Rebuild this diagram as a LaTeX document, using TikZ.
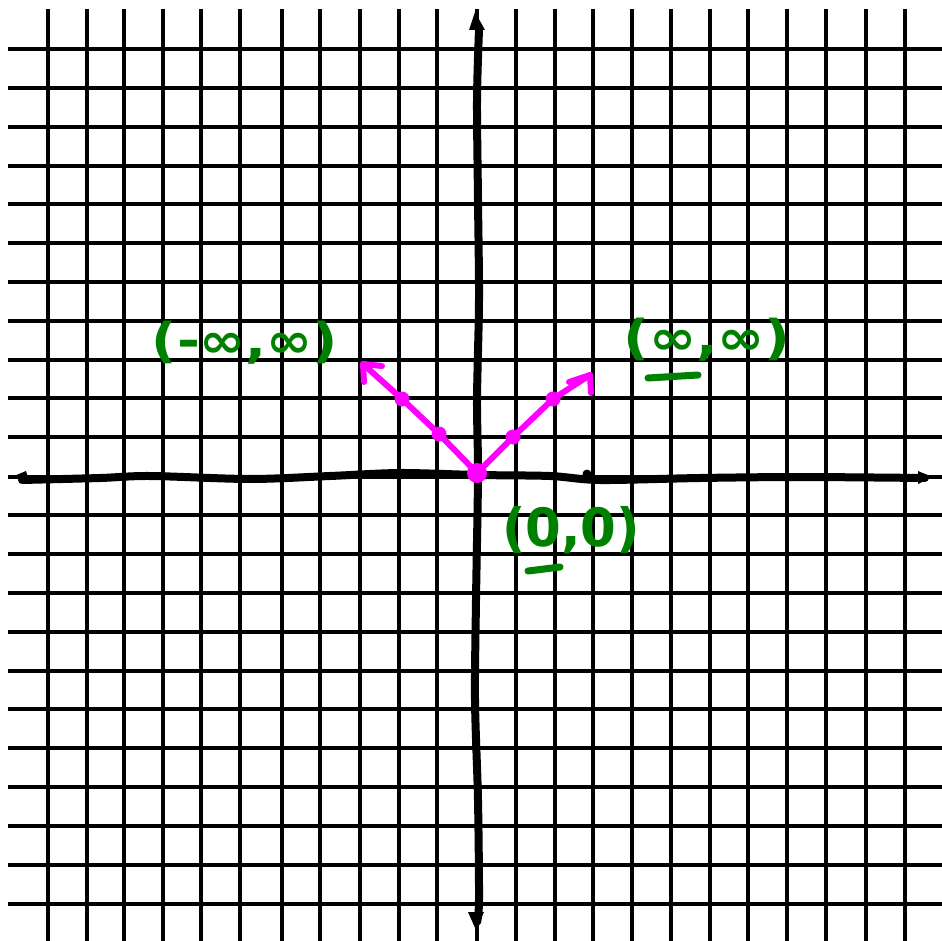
\documentclass[tikz,border=0pt]{standalone}
\usepackage{fontspec}
\newfontfamily\hand{DejaVu Sans}
\definecolor{pengreen}{RGB}{0,128,0}
\definecolor{penmag}{RGB}{255,0,255}
\begin{document}
\begin{tikzpicture}[x=1pt,y=-1pt,
  gridline/.style={line width=3.6pt,black},
  axisline/.style={line width=8pt,line cap=round,line join=round,black},
  magline/.style={penmag,line width=6pt,line cap=round,line join=round},
  magdot/.style={fill=penmag,draw=none},
  glabel/.style={text=pengreen,font=\hand\bfseries\fontsize{48}{48}\selectfont,inner sep=0pt},
  gstroke/.style={pengreen,line width=7pt,line cap=round}]
\useasboundingbox (0,0) rectangle (942,941);
\fill[white] (0,0) rectangle (942,941);
% grid
\foreach \x in {48,87,124,163,201,240,282,320,360,399,437,477,516,555,593,632,671,710,748,787,826,866,905}
  \draw[gridline] (\x,9) -- (\x,941);
\foreach \y in {49,88,127,166,204,243,282,321,360,398,437,477,515,554,593,632,671,709,748,787,826,865,904}
  \draw[gridline] (8,\y) -- (942,\y);
% axes
\draw[axisline] plot[smooth] coordinates {(22,480) (100,478) (150,476) (250,479) (330,476) (400,473) (477,475) (550,476) (600,480) (700,478) (800,477) (925,478)};
\draw[axisline] plot[smooth] coordinates {(479,30) (477,100) (478,200) (479,300) (477,400) (478,475) (476,600) (475,700) (478,800) (479,900) (477,922)};
\fill (14,476) -- (26,471) -- (30,483) -- cycle;
\fill (932,477) -- (918,471) -- (918,484) -- cycle;
\fill (475,12) -- (469,30) -- (485,30) -- cycle;
\fill (476,930) -- (468,912) -- (484,912) -- cycle;
\fill (587,474) circle (4.5);
% magenta rays
\coordinate (O) at (477,473);
\coordinate (L1) at (439,434);
\coordinate (L2) at (402,399);
\coordinate (LT) at (363,364);
\coordinate (LA) at (382,366);
\coordinate (LB) at (364,382);
\coordinate (R1) at (513,437);
\coordinate (R2) at (553,399);
\coordinate (RT) at (590,375);
\coordinate (RA) at (569,382);
\coordinate (RB) at (591,393);
\draw[magline] (O) -- (L1) -- (L2) -- (LT);
\draw[magline] (LA) -- (LT) -- (LB);
\draw[magline] (O) -- (R1) -- (R2) -- (RT);
\draw[magline] (RA) -- (RT) -- (RB);
\fill[magdot] (O) circle (10);
\fill[magdot] (L1) circle (7.5);
\fill[magdot] (L2) circle (7.5);
\fill[magdot] (R1) circle (7.5);
\fill[magdot] (R2) circle (7.5);
% labels
\node[glabel] (tL) at (245,343) {\scalebox{1.15}[1]{(-∞,∞)}};
\node[glabel] (tR) at (707,340) {\scalebox{1.18}[1]{(∞,∞)}};
\node[glabel] (tO) at (571,530) {\scalebox{1.07}[1.1]{(0,0)}};
\draw[gstroke] (648,378) -- (698,375);
\draw[gstroke] (528,571) -- (560,567);
\end{tikzpicture}
\end{document}
